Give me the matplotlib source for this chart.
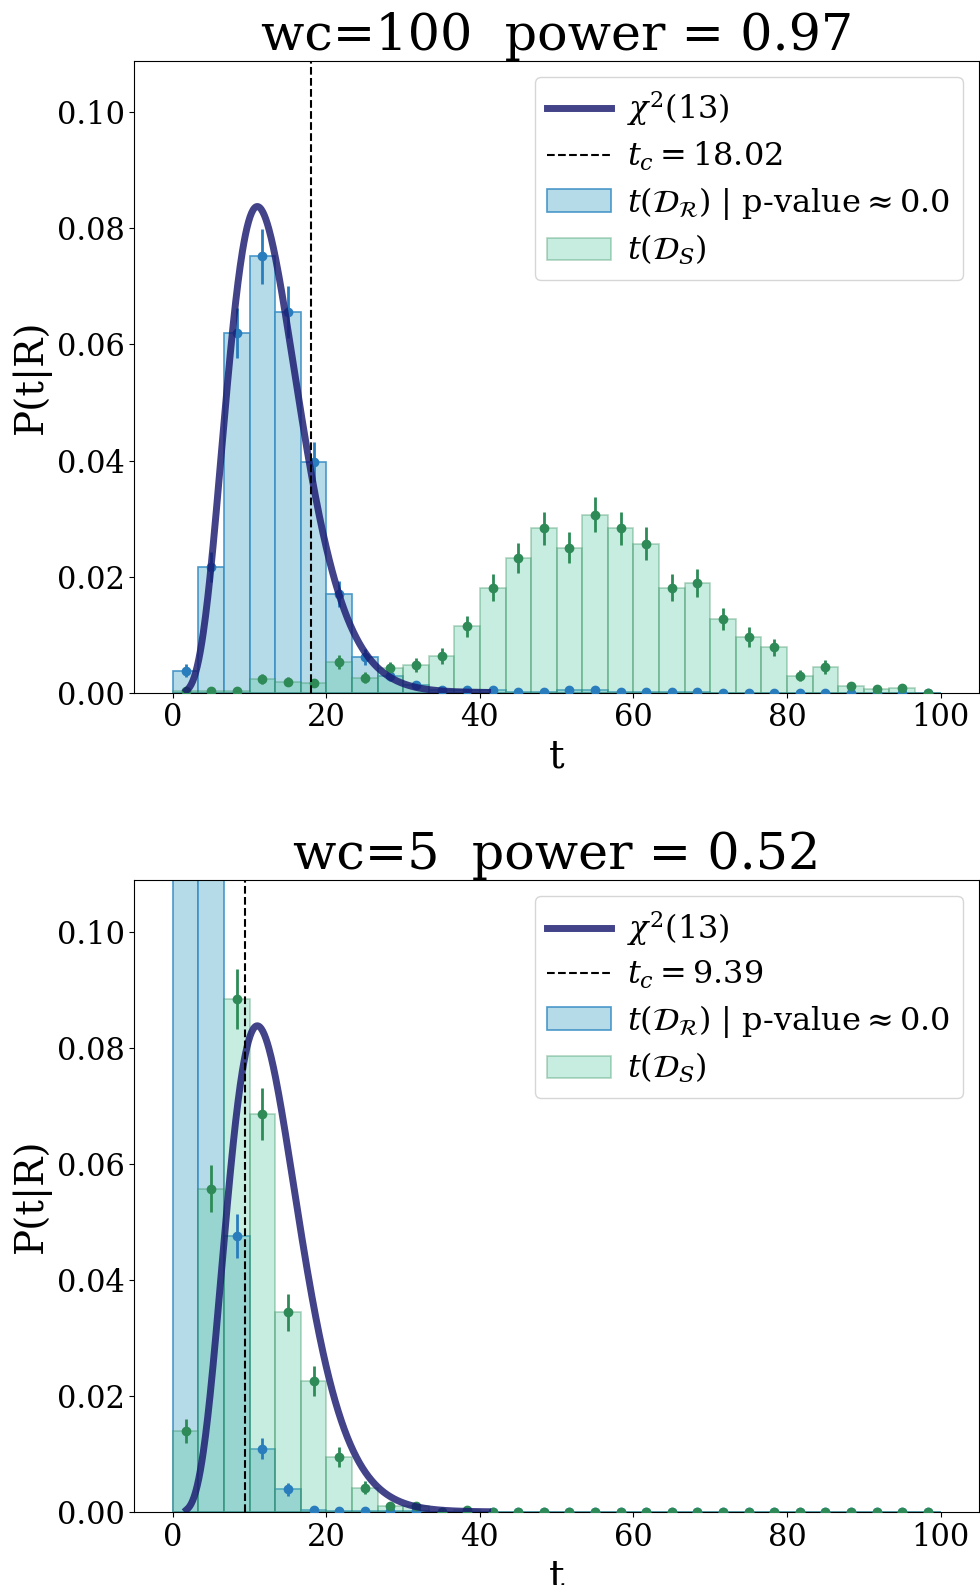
import math
import numpy as np
import matplotlib
matplotlib.use("Agg")
import matplotlib.pyplot as plt

plt.rcParams['font.family'] = ['DejaVu Serif']
plt.rcParams['mathtext.fontset'] = 'dejavuserif'

# histogram bin edges (30 bins on [0, 100])
bin_edges = np.linspace(0, 100, 31)
n_toys = 1000
dof = 13

# wc=100 panel
top_title = "wc=100  power = 0.97"
top_tc = 18.02
top_ref = [0.0038, 0.0217, 0.0620, 0.0752, 0.0656, 0.0398, 0.0170, 0.0062, 0.0029, 0.0014,
           0.0004, 0.0004, 0.0005, 0.0001, 0.0001, 0.0004, 0.0004, 0.0001, 0.0001, 0.0001,
           0.0001, 0.0, 0.0, 0.0, 0.0, 0.0, 0.0, 0.0, 0.0, 0.0]
top_sig = [0.0003, 0.0002, 0.0002, 0.0023, 0.0019, 0.0016, 0.0053, 0.0026, 0.0042, 0.0047,
           0.0063, 0.0114, 0.0181, 0.0232, 0.0283, 0.0250, 0.0307, 0.0283, 0.0257, 0.0181,
           0.0189, 0.0127, 0.0096, 0.0078, 0.0029, 0.0044, 0.0011, 0.0006, 0.0008, 0.0]

# wc=5 panel
bot_title = "wc=5  power = 0.52"
bot_tc = 9.39
bot_ref = [0.119, 0.117, 0.0475, 0.0109, 0.0039, 0.0004, 0.0002, 0.0001, 0.0001, 0.0001,
           0.0, 0.0, 0.0, 0.0, 0.0, 0.0, 0.0, 0.0, 0.0, 0.0,
           0.0, 0.0, 0.0, 0.0, 0.0, 0.0, 0.0, 0.0, 0.0, 0.0]
bot_sig = [0.0139, 0.0557, 0.0884, 0.0686, 0.0344, 0.0225, 0.0095, 0.0042, 0.0010, 0.0010,
           0.0, 0.0003, 0.0, 0.0, 0.0, 0.0, 0.0, 0.0, 0.0, 0.0,
           0.0, 0.0, 0.0, 0.0, 0.0, 0.0, 0.0, 0.0, 0.0, 0.0]

# range where the chi2 curve is drawn
t_lo, t_hi = 1.8, 41.0


def chi2_pdf(x, k):
    return x**(k/2 - 1) * np.exp(-x/2) / (2**(k/2) * math.gamma(k/2))


def draw_panel(ax, title, tc, ref, sig):
    w = bin_edges[1] - bin_edges[0]
    centers = 0.5*(bin_edges[:-1] + bin_edges[1:])
    ref = np.array(ref)
    sig = np.array(sig)
    ref_err = np.sqrt(ref/(w*n_toys))
    sig_err = np.sqrt(sig/(w*n_toys))

    x = np.linspace(t_lo, t_hi, 400)
    pdf = chi2_pdf(x, dof)
    ax.plot(x, pdf, color='midnightblue', alpha=0.82, lw=5, label=r'$\chi^2(13)$', zorder=4)
    ax.axvline(tc, color='black', ls='--', lw=1.5, label=r'$t_c = %.2f$' % tc, zorder=5)

    ax.bar(bin_edges[:-1], ref, width=w, align='edge', color='lightblue', alpha=0.9,
           edgecolor='#3b8fc4', lw=1.2, label=r'$t(\mathcal{D}_\mathcal{R})$ | p-value$\approx$0.0')
    ax.bar(bin_edges[:-1], sig, width=w, align='edge', color='mediumaquamarine', alpha=0.36,
           edgecolor='seagreen', lw=1.2, label=r'$t(\mathcal{D}_S)$')
    ax.errorbar(centers, ref, yerr=ref_err, fmt='o', color='#2a7dbd', ms=6, elinewidth=2, zorder=3)
    ax.errorbar(centers, sig, yerr=sig_err, fmt='o', color='seagreen', ms=6, elinewidth=2, zorder=3)

    ax.set_xlim(-5, 105)
    ax.set_ylim(0, 1.3*pdf.max())
    ax.set_yticks([0.0, 0.02, 0.04, 0.06, 0.08, 0.10])
    ax.set_xticks([0, 20, 40, 60, 80, 100])
    ax.tick_params(labelsize=22)
    ax.set_xlabel('t', fontsize=28, labelpad=4)
    ax.set_ylabel('P(t|R)', fontsize=28, labelpad=4)
    ax.set_title(title, fontsize=36.5, pad=4)
    ax.legend(loc='upper right', fontsize=23, labelspacing=0.36, handletextpad=0.5)


fig = plt.figure(figsize=(9.8, 15.85), dpi=100)
ax1 = fig.add_axes([0.1372, 0.5630, 0.8617, 0.3987])
ax2 = fig.add_axes([0.1372, 0.0461, 0.8617, 0.3987])
draw_panel(ax1, top_title, top_tc, top_ref, top_sig)
draw_panel(ax2, bot_title, bot_tc, bot_ref, bot_sig)

fig.savefig('out.png', dpi=100)
